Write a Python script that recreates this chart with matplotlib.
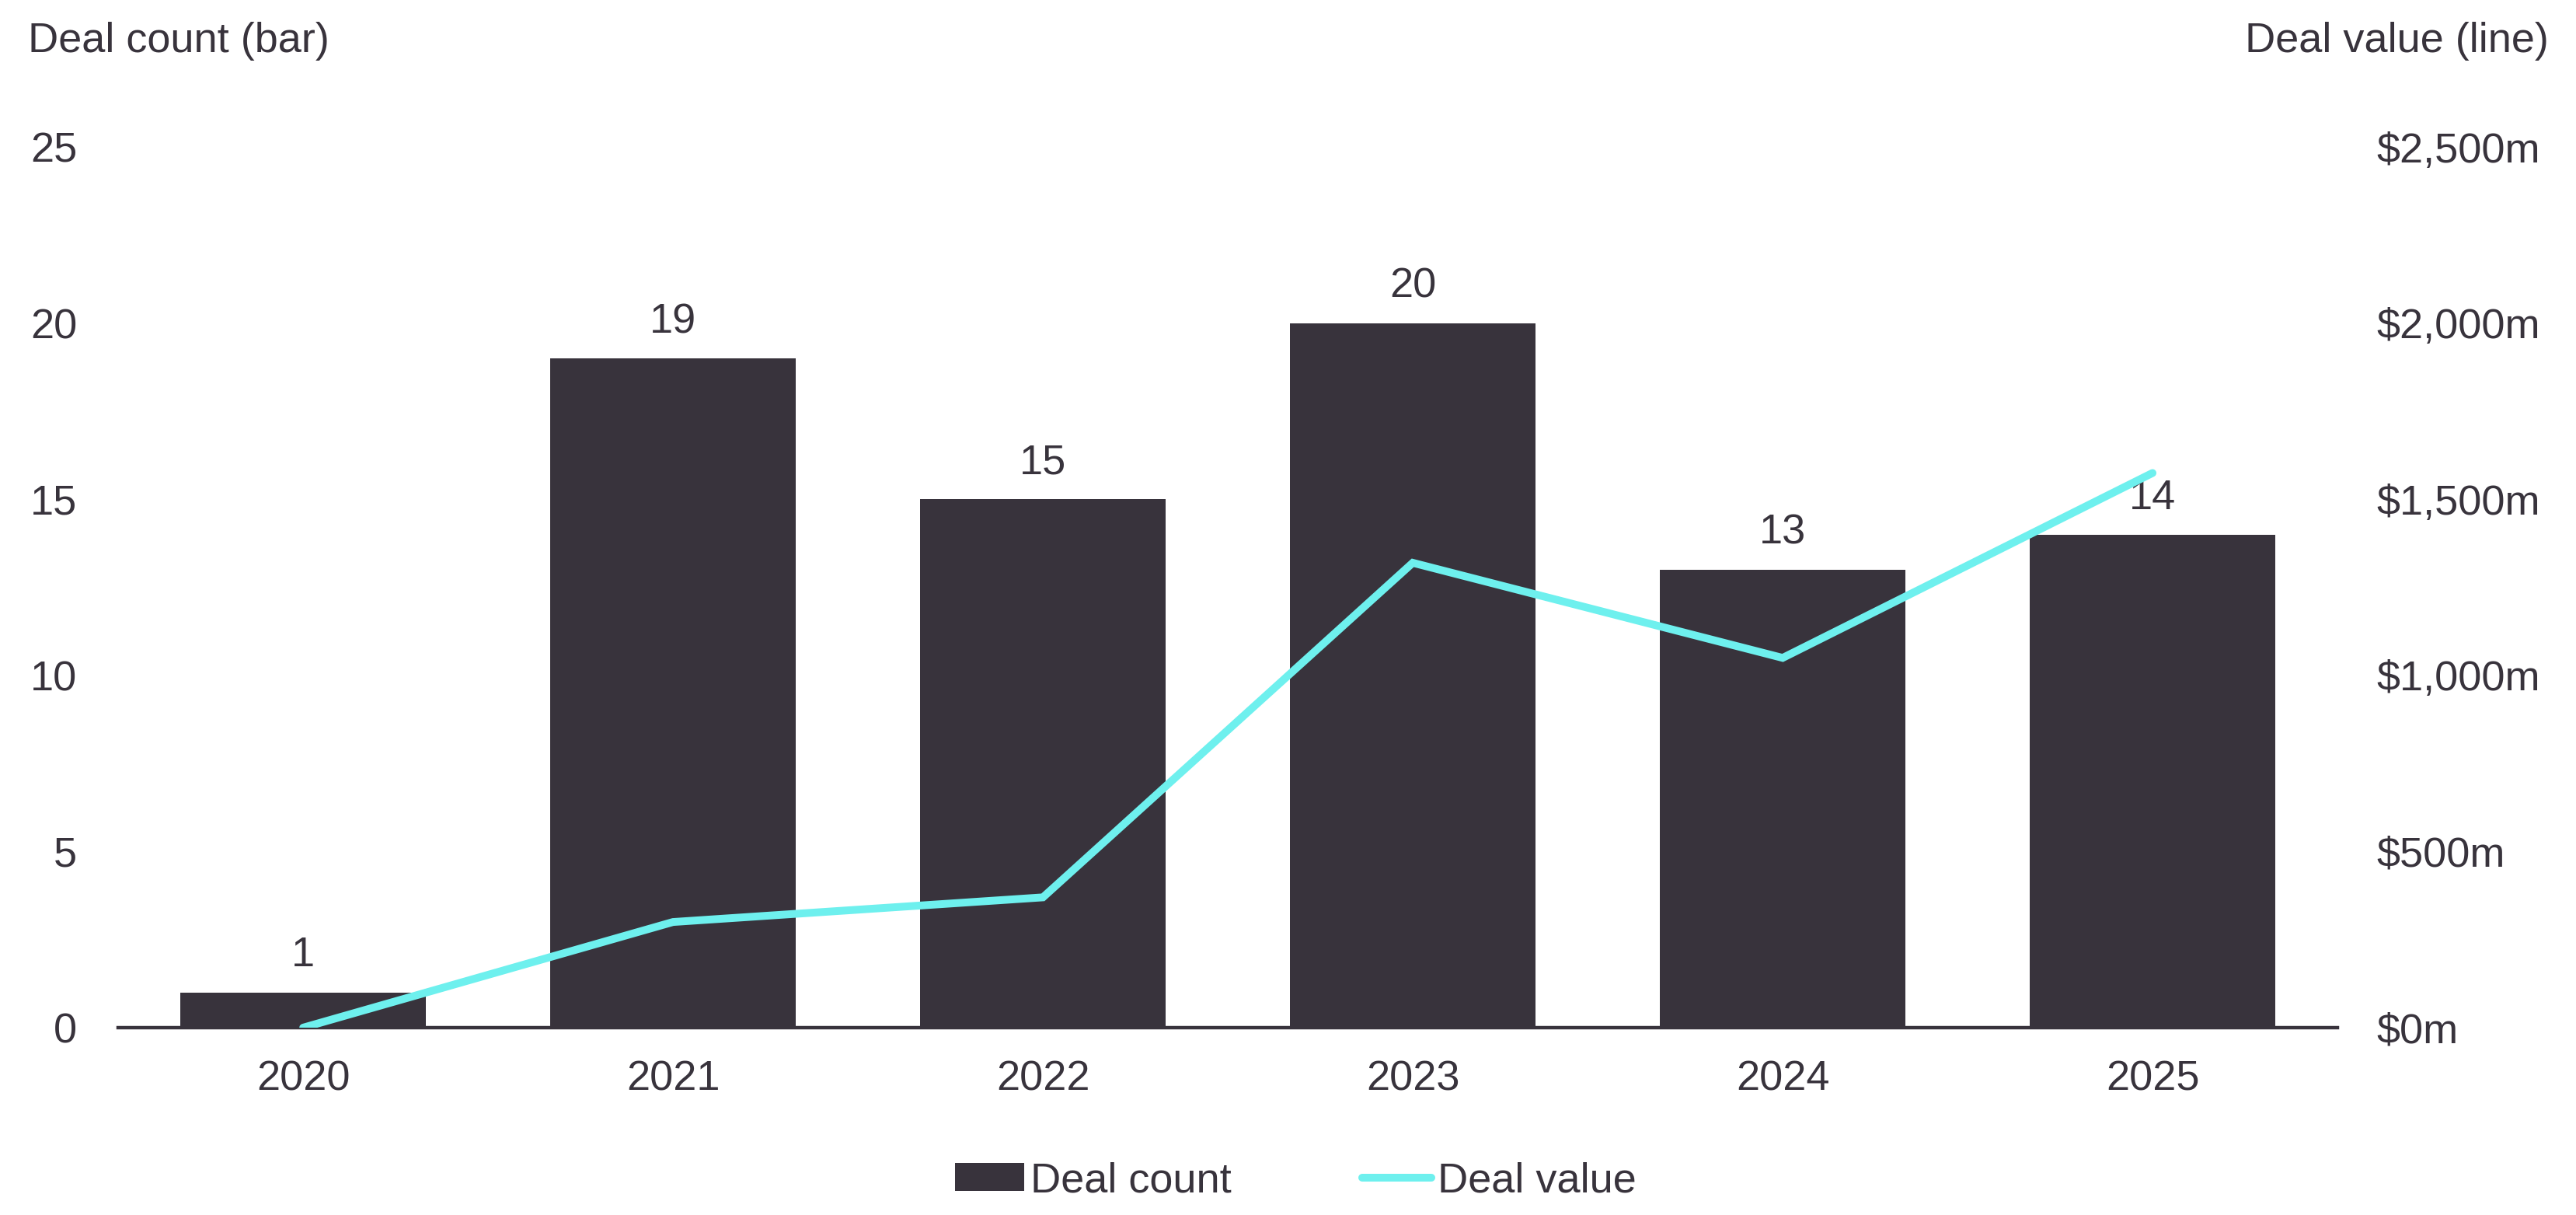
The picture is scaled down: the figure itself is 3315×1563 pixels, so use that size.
import matplotlib.pyplot as plt
from matplotlib.lines import Line2D
from matplotlib.patches import Patch
from matplotlib.ticker import FuncFormatter

plt.rcParams["font.family"] = ["Liberation Sans", "DejaVu Sans"]

years = ["2020", "2021", "2022", "2023", "2024", "2025"]
deal_count = [1, 19, 15, 20, 13, 14]
deal_value = [0, 300, 370, 1320, 1050, 1575]  # $m

BAR_COLOR = "#38333c"
LINE_COLOR = "#6ef0ee"
TEXT_COLOR = "#38333c"
FS = 19.5

fig = plt.figure(figsize=(16.575, 7.815), dpi=200)
ax1 = fig.add_axes([0.0459, 0.1542, 0.8615, 0.7246])

x = list(range(len(years)))
bars = ax1.bar(x, deal_count, width=0.665, color=BAR_COLOR, zorder=2)
for xi, v in zip(x, deal_count):
    ax1.annotate(str(v), xy=(xi, v), xytext=(0, 8), textcoords="offset points",
                 ha="center", va="bottom", fontsize=FS, color=TEXT_COLOR)

ax1.set_xlim(-0.5, 5.5)
ax1.set_ylim(0, 25)
ax1.set_yticks([0, 5, 10, 15, 20, 25])
ax1.set_xticks(x)
ax1.set_xticklabels(years)
ax1.tick_params(axis="both", length=0, labelsize=FS, labelcolor=TEXT_COLOR)
ax1.tick_params(axis="y", pad=19)
ax1.tick_params(axis="x", pad=15)
for s in ["top", "left", "right"]:
    ax1.spines[s].set_visible(False)
ax1.spines["bottom"].set_color(BAR_COLOR)
ax1.spines["bottom"].set_linewidth(1.6)
ax1.spines["bottom"].set_zorder(1)

ax2 = ax1.twinx()
ax2.plot(x, deal_value, color=LINE_COLOR, linewidth=3.6, solid_capstyle="round",
         solid_joinstyle="miter", zorder=3)
ax2.set_ylim(0, 2500)
ax2.set_yticks([0, 500, 1000, 1500, 2000, 2500])
ax2.yaxis.set_major_formatter(FuncFormatter(lambda v, p: f"${v:,.0f}m"))
ax2.tick_params(axis="y", length=0, labelsize=FS, labelcolor=TEXT_COLOR, pad=18)
for s in ["top", "left", "right", "bottom"]:
    ax2.spines[s].set_visible(False)

fig.text(0.011, 0.966, "Deal count (bar)", fontsize=FS, color=TEXT_COLOR,
         ha="left", va="center")
fig.text(0.9895, 0.966, "Deal value (line)", fontsize=FS, color=TEXT_COLOR,
         ha="right", va="center")

handles = [Patch(facecolor=BAR_COLOR, edgecolor="none"),
           Line2D([0], [0], color=LINE_COLOR, linewidth=3.6, solid_capstyle="round")]
fig.legend(handles, ["Deal count", "Deal value"], loc="center",
           bbox_to_anchor=(0.503, 0.028), ncol=2, frameon=False, fontsize=FS,
           labelcolor=TEXT_COLOR, handlelength=1.65, handletextpad=0.15,
           columnspacing=3.1, handleheight=0.65)

fig.savefig("out.png", dpi=200)
